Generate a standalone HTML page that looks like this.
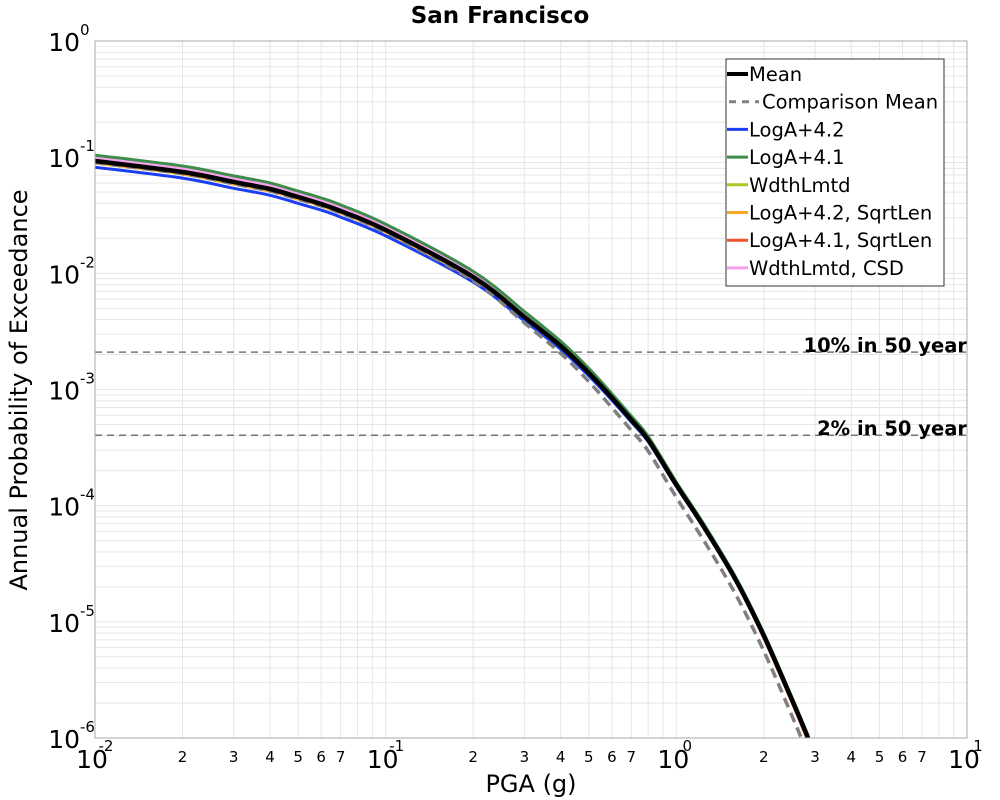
<!DOCTYPE html>
<html><head><meta charset="utf-8"><style>
body{margin:0;background:#fff;}
svg{display:block;font-family:"DejaVu Sans","Liberation Sans",sans-serif;}
</style></head><body>
<svg id="c" width="1000" height="800" viewBox="0 0 1000 800">
<text x="500" y="23" text-anchor="middle" font-size="23" font-weight="bold">San Francisco</text>
<text transform="translate(27,390) rotate(-90)" text-anchor="middle" font-size="24">Annual Probability of Exceedance</text>
<text x="531" y="792" text-anchor="middle" font-size="24">PGA (g)</text>
<g id="grid"></g><g id="ref"></g><g id="series"></g><g id="axes"></g><g id="legend"></g>
</svg>
<script>
const xs = [0.01,0.02,0.03,0.04,0.05,0.06,0.07,0.1,0.2,0.3,0.4,0.5,0.6,0.7,0.8,1.0,1.25,1.6,2.0,2.5,2.84];
const meanVals = [9.27e-2,7.46e-2,6.12e-2,5.32e-2,4.54e-2,3.95e-2,3.44e-2,2.36e-2,9.3e-3,4.22e-3,2.37e-3,1.39e-3,8.5e-4,5.47e-4,3.68e-4,1.51e-4,6.44e-5,2.3e-5,7.6e-6,2.13e-6,1.0e-6];
const compVals = [9.0e-2,7.2e-2,5.9e-2,5.1e-2,4.35e-2,3.8e-2,3.3e-2,2.25e-2,8.6e-3,3.75e-3,2.05e-3,1.17e-3,7.0e-4,4.45e-4,2.95e-4,1.18e-4,4.9e-5,1.72e-5,5.6e-6,1.55e-6,7.2e-7];
const loga42Vals = [8.2e-2,6.6e-2,5.4e-2,4.7e-2,4.0e-2,3.5e-2,3.05e-2,2.1e-2,8.4e-3,3.9e-3,2.22e-3,1.31e-3,8.1e-4,5.25e-4,3.55e-4,1.47e-4,6.3e-5,2.25e-5,7.4e-6,2.08e-6,9.8e-7];
const loga41Vals = [1.04e-1,8.4e-2,6.9e-2,6.0e-2,5.1e-2,4.45e-2,3.88e-2,2.65e-2,1.04e-2,4.7e-3,2.6e-3,1.52e-3,9.2e-4,5.9e-4,3.95e-4,1.6e-4,6.8e-5,2.42e-5,8.0e-6,2.23e-6,1.05e-6];
const wdthVals = [9.6e-2,7.7e-2,6.3e-2,5.5e-2,4.7e-2,4.1e-2,3.56e-2,2.44e-2,9.6e-3,4.35e-3,2.43e-3,1.42e-3,8.7e-4,5.55e-4,3.72e-4,1.52e-4,6.45e-5,2.3e-5,7.6e-6,2.12e-6,1.0e-6];
const loga42SqVals = [8.9e-2,7.15e-2,5.85e-2,5.1e-2,4.35e-2,3.8e-2,3.3e-2,2.27e-2,9.0e-3,4.1e-3,2.3e-3,1.35e-3,8.3e-4,5.35e-4,3.6e-4,1.48e-4,6.3e-5,2.24e-5,7.3e-6,2.03e-6,9.5e-7];
const loga41SqVals = [9.4e-2,7.55e-2,6.2e-2,5.4e-2,4.6e-2,4.0e-2,3.48e-2,2.39e-2,9.4e-3,4.25e-3,2.38e-3,1.39e-3,8.5e-4,5.45e-4,3.65e-4,1.49e-4,6.3e-5,2.24e-5,7.3e-6,2.03e-6,9.5e-7];
const csdVals = [9.8e-2,7.9e-2,6.5e-2,5.65e-2,4.8e-2,4.2e-2,3.65e-2,2.5e-2,9.9e-3,4.5e-3,2.5e-3,1.46e-3,8.9e-4,5.7e-4,3.82e-4,1.56e-4,6.6e-5,2.36e-5,7.8e-6,2.18e-6,1.03e-6];
const refLevels = [2.1e-3, 4.04e-4];
const refLabels = ["10% in 50 year","2% in 50 year"];
const xDecades = [-2,-1,0,1];
const yDecades = [0,-1,-2,-3,-4,-5,-6];
const minorMult = [2,3,4,5,6,7,8,9];
const minorLabels = ["2","3","4","5","6","7","",""];

const L=95,R=967,T=41,B=738;
const X=v=>L+(Math.log10(v)+2)/3*(R-L);
const Y=v=>T+(-Math.log10(v))/6*(B-T);
const NS="http://www.w3.org/2000/svg";
function mk(tag,parent,attrs){const e=document.createElementNS(NS,tag);for(const k in attrs)e.setAttribute(k,attrs[k]);parent.appendChild(e);return e;}
const grid=document.getElementById('grid'),axes=document.getElementById('axes'),ser=document.getElementById('series'),ref=document.getElementById('ref'),leg=document.getElementById('legend');

for(let d=-2;d<1;d++){for(const m of [1,...minorMult]){const x=X(m*Math.pow(10,d));
 const ln=mk('line',grid,{x1:x,x2:x,y1:T,y2:B,stroke:'#e6e6e6','stroke-width':1});
 
 }}
for(let d=-6;d<0;d++){for(const m of [1,...minorMult]){const y=Y(m*Math.pow(10,d));
 const ln=mk('line',grid,{x1:L,x2:R,y1:y,y2:y,stroke:'#e6e6e6','stroke-width':1});
 
 }}

refLevels.forEach((v,i)=>{const y=Y(v);
 const ln=mk('line',ref,{x1:L,x2:R,y1:y,y2:y,stroke:'#777','stroke-width':1.5,'stroke-dasharray':'7,5'});
 
 
 const t=mk('text',ref,{x:967,y:y,'text-anchor':'end','font-size':19.5,'font-weight':'bold'});t.textContent=refLabels[i];
 
 });

function smoothPath(pts){
 let d='M'+pts[0][0].toFixed(1)+','+pts[0][1].toFixed(1);
 for(let i=0;i<pts.length-1;i++){
  const p0=pts[Math.max(0,i-1)],p1=pts[i],p2=pts[i+1],p3=pts[Math.min(pts.length-1,i+2)];
  const c1x=p1[0]+(p2[0]-p0[0])/6,c1y=p1[1]+(p2[1]-p0[1])/6;
  const c2x=p2[0]-(p3[0]-p1[0])/6,c2y=p2[1]-(p3[1]-p1[1])/6;
  d+='C'+c1x.toFixed(1)+','+c1y.toFixed(1)+' '+c2x.toFixed(1)+','+c2y.toFixed(1)+' '+p2[0].toFixed(1)+','+p2[1].toFixed(1);
 }
 return d;
}
const series=[
 {n:'loga42-sqrtlen',v:loga42SqVals,c:'#f5a623',w:3},
 {n:'loga41-sqrtlen',v:loga41SqVals,c:'#f0522a',w:3},
 {n:'wdthlmtd',v:wdthVals,c:'#a8c81e',w:3},
 {n:'wdthlmtd-csd',v:csdVals,c:'#f7a0ee',w:3},
 {n:'loga41',v:loga41Vals,c:'#3d8c4a',w:3},
 {n:'loga42',v:loga42Vals,c:'#1a3ff5',w:3},
 {n:'comparison-mean',v:compVals,c:'#808080',w:3.5,d:'10,6'},
 {n:'mean',v:meanVals,c:'#000',w:4.5}];
const clip=mk('clipPath',document.getElementById('c'),{id:'pc'});mk('rect',clip,{x:L,y:T,width:R-L,height:B-T});
ser.setAttribute('clip-path','url(#pc)');
series.forEach(s=>{const pts=xs.map((x,i)=>[X(x),Y(s.v[i])]);
 const p=mk('path',ser,{d:smoothPath(pts),fill:'none',stroke:s.c,'stroke-width':s.w,'stroke-linejoin':'round'});
 if(s.d)p.setAttribute('stroke-dasharray',s.d);
 
 });

const fr=mk('rect',axes,{x:L,y:T,width:R-L,height:B-T,fill:'none',stroke:'#aaa','stroke-width':1});


xDecades.forEach(d=>{const x=X(Math.pow(10,d));
 const t=mk('text',axes,{x:x-3,y:768,'text-anchor':'middle','font-size':25});t.textContent='10';
 
 
 const e=mk('text',axes,{x:x+11,y:751,'text-anchor':'middle','font-size':15});e.textContent=String(d);
 
 });
for(let d=-2;d<1;d++){minorMult.forEach((m,i)=>{if(!minorLabels[i])return;
 const t=mk('text',axes,{x:X(m*Math.pow(10,d)),y:762,'text-anchor':'middle','font-size':15});t.textContent=minorLabels[i];
 
 });}
yDecades.forEach(d=>{const y=Y(Math.pow(10,d));
 const t=mk('text',axes,{x:80,y:y+10,'text-anchor':'end','font-size':25});t.textContent='10';
 
 
 const e=mk('text',axes,{x:80,y:y-6,'text-anchor':'start','font-size':15});e.textContent=String(d);
 
 });

const lb=mk('rect',leg,{x:726,y:59,width:218,height:227,fill:'#fff',stroke:'#333','stroke-width':1});


const legItems=[['Mean','#000',4,null],['Comparison Mean','#808080',3,'7,6'],['LogA+4.2','#1a3ff5',3,null],['LogA+4.1','#3d8c4a',3,null],['WdthLmtd','#a8c81e',3,null],['LogA+4.2, SqrtLen','#f5a623',3,null],['LogA+4.1, SqrtLen','#f0522a',3,null],['WdthLmtd, CSD','#f7a0ee',3,null]];
legItems.forEach((it,i)=>{const y=74+i*27.7;
 const g=mk('g',leg,{});
 
 
 const ln=mk('line',g,{x1:i==1?729:727,x2:i==1?759:748,y1:y,y2:y,stroke:it[1],'stroke-width':it[2]});
 if(it[3])ln.setAttribute('stroke-dasharray',it[3]);
 const t=mk('text',g,{x:i==1?762:749,y:y+7,'font-size':19.5});t.textContent=it[0];});
</script>
</body></html>
